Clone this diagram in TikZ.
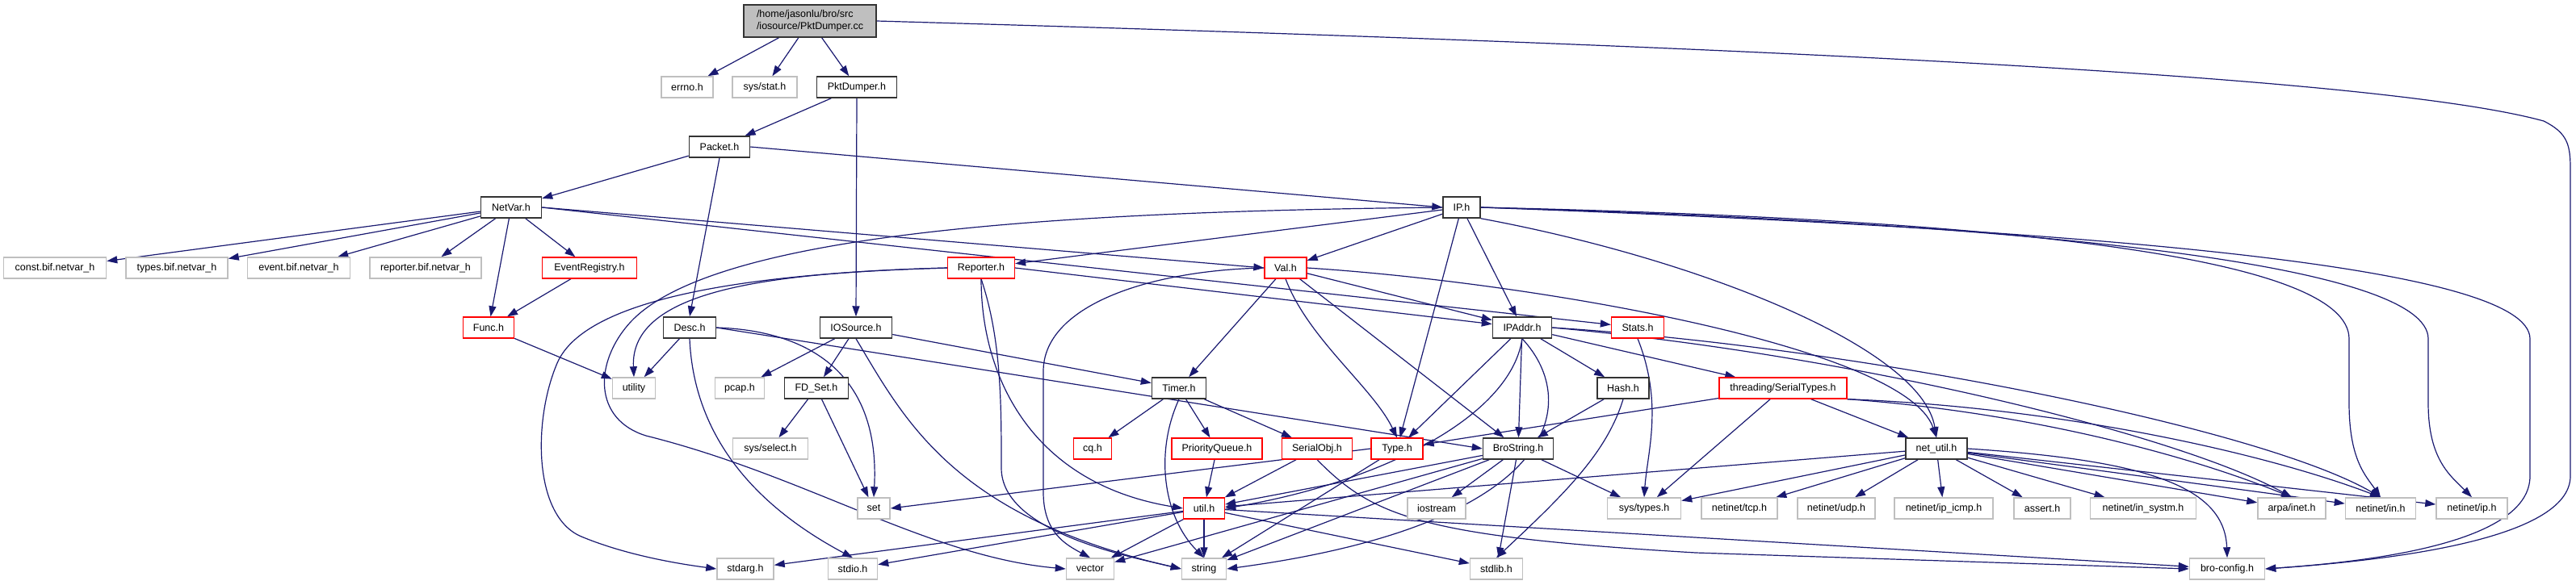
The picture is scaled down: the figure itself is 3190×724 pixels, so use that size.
\documentclass[tikz,border=0pt]{standalone}
\usepackage{fontspec}
\setmainfont{Liberation Sans}
\usetikzlibrary{arrows.meta}
\pgfdeclarelayer{edgelayer}
\pgfsetlayers{edgelayer,main}
\definecolor{edgec}{HTML}{191970}
\definecolor{greyc}{HTML}{BFBFBF}
\definecolor{redc}{HTML}{FF0000}
\newcommand{\lblfont}{\fontsize{12.5}{15.5}\selectfont}
\begin{document}
\begin{tikzpicture}[x=1pt,y=-1pt,
 base/.style={rectangle, minimum height=26pt, inner sep=0pt, font=\lblfont, fill=white, text=black},
 blackbox/.style={base, draw=black!80, line width=1.5pt},
 rootbox/.style={base, draw=black!80, line width=1.5pt, fill=greyc},
 redbox/.style={base, draw=redc, line width=1.3pt},
 greybox/.style={base, draw=greyc, line width=1.5pt},
 edge/.style={draw=edgec, line width=1.2pt, -{Triangle[length=13pt,width=9pt]}}]
\useasboundingbox (0,0) rectangle (3190,724);
% row 1
\node[rootbox, minimum width=164pt, minimum height=40pt, align=left] (root) at (1003,26) {/home/jasonlu/bro/src\\/iosource/PktDumper.cc};
% row 2
\node[greybox, minimum width=64pt] (errno) at (851,108) {errno.h};
\node[greybox, minimum width=80pt] (sysstat) at (947,108) {sys/stat.h};
\node[blackbox, minimum width=99pt] (pktdumper) at (1061,108) {PktDumper.h};
% row 3
\node[blackbox, minimum width=75pt] (packet) at (891,182) {Packet.h};
% row 4
\node[blackbox, minimum width=75pt] (netvar) at (633,257) {NetVar.h};
\node[blackbox, minimum width=46pt] (ip) at (1810,257) {IP.h};
% row 5
\node[greybox, minimum width=127pt] (constbif) at (68,332) {const.bif.netvar\_h};
\node[greybox, minimum width=126pt] (typesbif) at (219,332) {types.bif.netvar\_h};
\node[greybox, minimum width=127pt] (eventbif) at (370,332) {event.bif.netvar\_h};
\node[greybox, minimum width=138pt] (reporterbif) at (527,332) {reporter.bif.netvar\_h};
\node[redbox, minimum width=117pt] (eventreg) at (730,332) {EventRegistry.h};
\node[redbox, minimum width=83pt] (reporter) at (1215,332) {Reporter.h};
\node[redbox, minimum width=52pt] (val) at (1592,332) {Val.h};
% row 6
\node[redbox, minimum width=63pt] (func) at (605,406) {Func.h};
\node[blackbox, minimum width=65pt] (desc) at (854,406) {Desc.h};
\node[blackbox, minimum width=89pt] (iosource) at (1060,406) {IOSource.h};
\node[blackbox, minimum width=73pt] (ipaddr) at (1885,406) {IPAddr.h};
\node[redbox, minimum width=65pt] (stats) at (2028,406) {Stats.h};
% row 7
\node[greybox, minimum width=53pt] (utility) at (785,481) {utility};
\node[greybox, minimum width=61pt] (pcap) at (916,481) {pcap.h};
\node[blackbox, minimum width=79pt] (fdset) at (1011,481) {FD\_Set.h};
\node[blackbox, minimum width=67pt] (timer) at (1460,481) {Timer.h};
\node[blackbox, minimum width=64pt] (hash) at (2010,481) {Hash.h};
\node[redbox, minimum width=158pt] (sertypes) at (2208,481) {threading/SerialTypes.h};
% row 8
\node[greybox, minimum width=93pt] (sysselect) at (954,556) {sys/select.h};
\node[redbox, minimum width=47pt] (cq) at (1353,556) {cq.h};
\node[redbox, minimum width=112pt] (pq) at (1507,556) {PriorityQueue.h};
\node[redbox, minimum width=87pt] (serobj) at (1631,556) {SerialObj.h};
\node[redbox, minimum width=64pt] (type) at (1730,556) {Type.h};
\node[blackbox, minimum width=87pt] (brostring) at (1880,556) {BroString.h};
\node[blackbox, minimum width=76pt] (netutil) at (2398,556) {net\_util.h};
% row 9
\node[greybox, minimum width=40pt] (set) at (1082,630) {set};
\node[redbox, minimum width=51pt] (util) at (1491,630) {util.h};
\node[greybox, minimum width=72pt] (iostream) at (1779,630) {iostream};
\node[greybox, minimum width=91pt] (systypes) at (2036,630) {sys/types.h};
\node[greybox, minimum width=94pt] (tcp) at (2154,630) {netinet/tcp.h};
\node[greybox, minimum width=96pt] (udp) at (2274,630) {netinet/udp.h};
\node[greybox, minimum width=122pt] (icmp) at (2407,630) {netinet/ip\_icmp.h};
\node[greybox, minimum width=70pt] (assert) at (2529,630) {assert.h};
\node[greybox, minimum width=131pt] (insystm) at (2654,630) {netinet/in\_systm.h};
\node[greybox, minimum width=84pt] (inet) at (2838,630) {arpa/inet.h};
\node[greybox, minimum width=87pt] (netinin) at (2948,630) {netinet/in.h};
\node[greybox, minimum width=88pt] (netinip) at (3061,630) {netinet/ip.h};
% row 10
\node[greybox, minimum width=70pt] (stdarg) at (923,705) {stdarg.h};
\node[greybox, minimum width=61pt] (stdio) at (1056,705) {stdio.h};
\node[greybox, minimum width=59pt] (vector) at (1350,705) {vector};
\node[greybox, minimum width=55pt] (string) at (1491,705) {string};
\node[greybox, minimum width=65pt] (stdlib) at (1853,705) {stdlib.h};
\node[greybox, minimum width=93pt] (broconfig) at (2758,705) {bro-config.h};

\begin{pgfonlayer}{edgelayer}
% edges: root
\draw[edge] (root) -- (errno);
\draw[edge] (root) -- (sysstat);
\draw[edge] (root) -- (pktdumper);
\draw[edge] (root.east) .. controls (2200,58) and (2950,95) .. (3150,150) .. controls (3180,165) and (3183,180) .. (3183,210) -- (3183,590) .. controls (3183,670) and (2950,695) .. (broconfig.east);
% PktDumper, Packet
\draw[edge] (pktdumper) -- (packet);
\draw[edge] (pktdumper.south) -- (iosource.north);
\draw[edge] (packet) -- (netvar);
\draw[edge] (packet.east) -- (ip.west);
\draw[edge] (packet.south) -- (desc.north);
% NetVar
\foreach \t in {constbif,typesbif,eventbif,reporterbif,eventreg,func}
  \draw[edge] (netvar) -- (\t);
\draw[edge] (netvar.east) -- (val.west);
\draw[edge] (netvar.east) -- (stats);
\draw[edge] (eventreg) -- (func);
\draw[edge] (func) -- (utility);
% IP
\draw[edge] (ip) -- (reporter);
\draw[edge] (ip) -- (val);
\draw[edge] (ip) -- (ipaddr);
\draw[edge] (ip) -- (type);
\draw[edge] (ip.south east) .. controls (2100,320) and (2380,430) .. (netutil.north);
\draw[edge] (ip.east) .. controls (2500,272) and (2909,320) .. (2909,420) -- (2909,500) .. controls (2909,570) and (2930,590) .. (netinin.north);
\draw[edge] (ip.east) .. controls (2550,278) and (3007,330) .. (3007,420) -- (3007,500) .. controls (3007,570) and (3035,590) .. (netinip.north);
\draw[edge] (ip.east) .. controls (2600,285) and (3133,330) .. (3133,420) -- (3133,590) .. controls (3133,670) and (2950,695) .. (broconfig.east);
\draw[edge] (ip.west) .. controls (1300,262) and (880,290) .. (780,400) .. controls (735,450) and (735,520) .. (800,540) .. controls (1000,590) and (1150,690) .. (vector.west);
% Reporter
\draw[edge] (reporter.west) .. controls (950,338) and (780,360) .. (utility.north);
\draw[edge] (reporter.west) .. controls (880,340) and (720,380) .. (690,450) .. controls (660,520) and (660,640) .. (720,665) .. controls (780,690) and (850,700) .. (stdarg.west);
\draw[edge] (reporter.south) .. controls (1215,470) and (1280,600) .. (util.west);
\draw[edge] (reporter.south) .. controls (1240,420) and (1240,500) .. (1240,580) .. controls (1240,660) and (1400,690) .. (string.west);
\draw[edge] (reporter.east) -- (ipaddr);
% Val
\draw[edge] (val) -- (timer);
\draw[edge] (val.south) .. controls (1620,420) and (1700,480) .. (type.north);
\draw[edge] (val) -- (brostring);
\draw[edge] (val) -- (ipaddr);
\draw[edge] (val.east) .. controls (1900,350) and (2360,430) .. (netutil.north);
\draw[edge] (val.west) .. controls (1420,335) and (1292,380) .. (1292,460) -- (1292,610) .. controls (1292,660) and (1320,675) .. (vector.north);
% Desc
\draw[edge] (desc) -- (utility);
\draw[edge] (desc.south) .. controls (860,560) and (960,640) .. (stdio.north);
\draw[edge] (desc.east) .. controls (1010,410) and (1090,470) .. (set.north);
\draw[edge] (desc.east) -- (brostring.west);
% IOSource
\draw[edge] (iosource) -- (pcap);
\draw[edge] (iosource) -- (fdset);
\draw[edge] (iosource) -- (timer);
\draw[edge] (iosource.south) .. controls (1120,520) and (1180,640) .. (string.west);
% FD_Set
\draw[edge] (fdset) -- (sysselect);
\draw[edge] (fdset) -- (set);
% Timer
\draw[edge] (timer) -- (cq);
\draw[edge] (timer) -- (pq);
\draw[edge] (timer) -- (serobj);
\draw[edge] (timer.south) .. controls (1430,560) and (1440,640) .. (string.north);
% PriorityQueue, SerialObj
\draw[edge] (pq) -- (util);
\draw[edge] (serobj) -- (util);
\draw[edge] (serobj.south) .. controls (1700,640) and (1760,665) .. (2100,685) -- (broconfig.west);
% Type
\draw[edge] (type.west) -- (set.east);
\draw[edge] (type) -- (string);
% BroString
\foreach \t in {util,vector,string,iostream,stdlib,systypes}
  \draw[edge] (brostring) -- (\t);
% IPAddr
\draw[edge] (ipaddr) -- (type);
\draw[edge] (ipaddr) -- (brostring);
\draw[edge] (ipaddr) -- (hash);
\draw[edge] (ipaddr) -- (sertypes);
\draw[edge] (ipaddr.south) .. controls (1870,520) and (1700,600) .. (util.east);
\draw[edge] (ipaddr.south) .. controls (1960,500) and (1930,650) .. (string.east);
\draw[edge] (ipaddr.east) .. controls (2300,440) and (2700,540) .. (inet.north);
\draw[edge] (ipaddr.east) .. controls (2300,430) and (2800,530) .. (netinin.north);
% Hash
\draw[edge] (hash) -- (brostring);
\draw[edge] (hash.south) .. controls (1990,560) and (1940,610) .. (stdlib.north);
% Stats
\draw[edge] (stats.south) .. controls (2060,500) and (2040,560) .. (systypes.north);
% SerialTypes
\draw[edge] (sertypes) -- (type);
\draw[edge] (sertypes) -- (systypes);
\draw[edge] (sertypes) -- (netutil);
\draw[edge] (sertypes.south east) .. controls (2500,510) and (2700,560) .. (inet.north);
\draw[edge] (sertypes.south east) .. controls (2550,505) and (2800,560) .. (netinin.north);
% net_util
\foreach \t in {util,systypes,tcp,udp,icmp,assert,insystm,inet,netinin,netinip}
  \draw[edge] (netutil) -- (\t);
\draw[edge] (netutil.east) .. controls (2650,570) and (2755,600) .. (broconfig.north);
% util
\foreach \t in {vector,string,stdarg,stdio,stdlib,broconfig}
  \draw[edge] (util) -- (\t);
\end{pgfonlayer}
\end{tikzpicture}
\end{document}
